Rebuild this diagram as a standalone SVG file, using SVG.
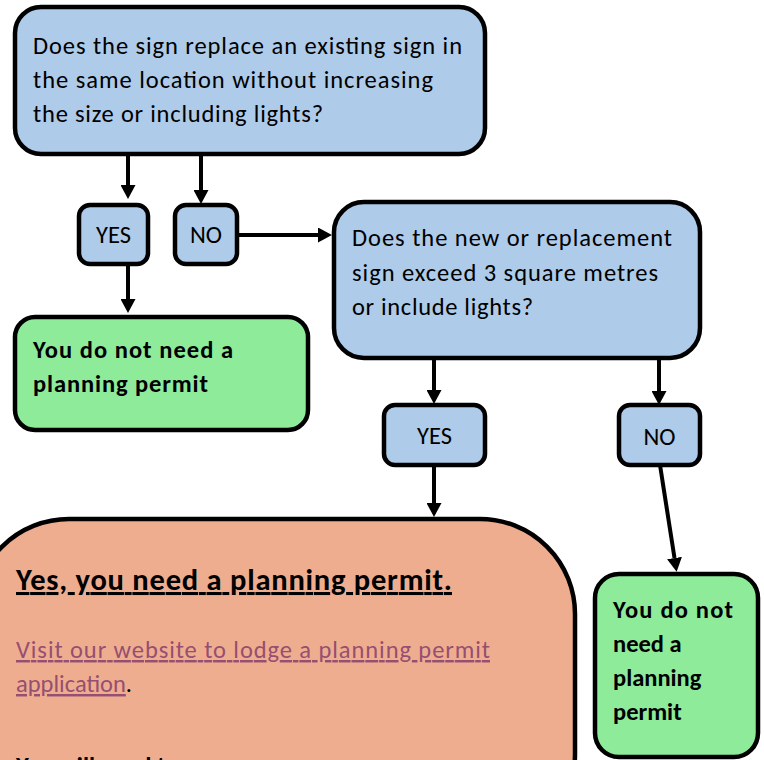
<svg xmlns="http://www.w3.org/2000/svg" width="764" height="760" viewBox="0 0 764 760">
<defs>
<style>
.box{stroke:#000;stroke-width:4.5}
.q{fill:#aecbe9}
.g{fill:#8eeb9a}
.o{fill:#efad8f}
text{font-family:Carlito,Calibri,"Open Sans","Liberation Sans",sans-serif;font-size:24.5px;fill:#000}
.b{font-weight:bold}
.c{text-anchor:middle}
.t{font-size:30.5px;text-decoration:underline}
.link{fill:#954f72;text-decoration:underline}
.conn{stroke:#000;stroke-width:4;fill:none;marker-end:url(#ah)}
</style>
<marker id="ah" markerUnits="userSpaceOnUse" markerWidth="14" markerHeight="15" refX="0" refY="7.5" orient="auto" viewBox="0 0 14 15">
<path d="M0,0 L14,7.5 L0,15 z" fill="#000"/>
</marker>
</defs>
<g id="connectors">
<line class="conn" x1="128" y1="153" x2="128" y2="185"/>
<line class="conn" x1="201" y1="153" x2="201" y2="190"/>
<line class="conn" x1="236" y1="235" x2="318" y2="235"/>
<line class="conn" x1="128" y1="263" x2="128" y2="299"/>
<line class="conn" x1="434" y1="358" x2="434" y2="390"/>
<line class="conn" x1="659" y1="358" x2="659" y2="391"/>
<line class="conn" x1="434" y1="465" x2="434" y2="503"/>
<line class="conn" x1="660" y1="465" x2="674.5" y2="558"/>
</g>
<g id="q1">
<rect class="box q" x="15" y="7" width="470" height="147" rx="26"/>
<text x="33" y="54" textLength="429" lengthAdjust="spacing">Does the sign replace an existing sign in</text>
<text x="33" y="88" textLength="400" lengthAdjust="spacing">the same location without increasing</text>
<text x="33" y="122" textLength="290" lengthAdjust="spacing">the size or including lights?</text>
</g>
<g id="yes1">
<rect class="box q" x="79" y="205" width="69" height="59" rx="11"/>
<text class="c" x="113.5" y="243">YES</text>
</g>
<g id="no1">
<rect class="box q" x="175" y="205" width="62" height="59" rx="11"/>
<text class="c" x="206" y="243">NO</text>
</g>
<g id="ok1">
<rect class="box g" x="15" y="317" width="293" height="113" rx="20"/>
<text class="b" x="33" y="358" textLength="200" lengthAdjust="spacing">You do not need a</text>
<text class="b" x="33" y="392" textLength="175" lengthAdjust="spacing">planning permit</text>
</g>
<g id="q2">
<rect class="box q" x="334" y="202" width="366" height="156" rx="30"/>
<text x="352" y="246" textLength="320" lengthAdjust="spacing">Does the new or replacement</text>
<text x="352" y="281" textLength="306" lengthAdjust="spacing">sign exceed 3 square metres</text>
<text x="352" y="315" textLength="181" lengthAdjust="spacing">or include lights?</text>
</g>
<g id="yes2">
<rect class="box q" x="384" y="405" width="101" height="60" rx="11"/>
<text class="c" x="434.5" y="444">YES</text>
</g>
<g id="no2">
<rect class="box q" x="619" y="405" width="81" height="60" rx="11"/>
<text class="c" x="659.5" y="445">NO</text>
</g>
<g id="permit">
<rect class="box o" x="-26" y="519" width="601" height="330" rx="95"/>
<text class="b t" x="16" y="590" textLength="436" lengthAdjust="spacing">Yes, you need a planning permit.</text>
<text class="link" x="16" y="658" textLength="474" lengthAdjust="spacing">Visit our website to lodge a planning permit</text>
<text x="16" y="692"><tspan class="link">application</tspan>.</text>
<text class="b" x="16" y="774">You will need to:</text>
</g>
<g id="ok2">
<rect class="box g" x="595" y="574" width="163" height="183" rx="24"/>
<text class="b" x="613" y="618" textLength="120" lengthAdjust="spacing">You do not</text>
<text class="b" x="613" y="652">need a</text>
<text class="b" x="613" y="686">planning</text>
<text class="b" x="613" y="720">permit</text>
</g>
</svg>
